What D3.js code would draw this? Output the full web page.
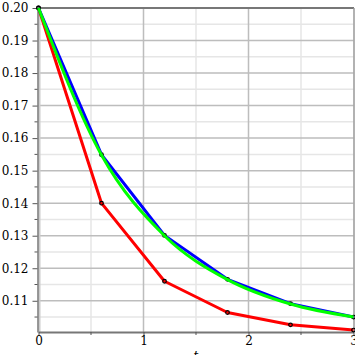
<!DOCTYPE html>
<html>
<head>
<meta charset="utf-8">
<script src="https://cdn.jsdelivr.net/npm/d3@7"></script>
<style>
  body { margin: 0; background: #fff; }
  svg { display: block; }
  text { font-family: "DejaVu Serif", serif; font-size: 12px; fill: #000; }
</style>
</head>
<body>
<svg width="355" height="355"></svg>
<script>
const tValues = [0, 0.6, 1.2, 1.8, 2.4, 3.0];
const eulerValues = [0.2, 0.14, 0.116, 0.1064, 0.1026, 0.1010];
const blueValues = [0.2, 0.1549, 0.1301, 0.1166, 0.1091, 0.1050];
const greenValues = [0.2, 0.1548, 0.1300, 0.1165, 0.1090, 0.1050];
const yTicks = [0.11, 0.12, 0.13, 0.14, 0.15, 0.16, 0.17, 0.18, 0.19, 0.20];
const xTicks = [0, 1, 2, 3];

const svg = d3.select('svg');
const x = d3.scaleLinear().domain([0, 3]).range([38.5, 353.5]);
const y = d3.scaleLinear().domain([0.1004, 0.2]).range([332, 8]);

// grid
const minorY = d3.range(0.105, 0.2001, 0.01);
svg.append('g').selectAll('line').data(minorY).enter().append('line')
  .attr('x1', x(0)).attr('x2', x(3))
  .attr('y1', d => y(d)).attr('y2', d => y(d))
  .attr('stroke', '#e6e6e6').attr('stroke-width', 1.5);
svg.append('g').selectAll('line').data([0.5, 1.5, 2.5]).enter().append('line')
  .attr('x1', d => x(d)).attr('x2', d => x(d))
  .attr('y1', y(0.2)).attr('y2', 332)
  .attr('stroke', '#e6e6e6').attr('stroke-width', 1.5);
svg.append('g').selectAll('line').data(yTicks.slice(0, -1)).enter().append('line')
  .attr('x1', x(0)).attr('x2', x(3))
  .attr('y1', d => y(d)).attr('y2', d => y(d))
  .attr('stroke', '#bdbdbd').attr('stroke-width', 1.5);
svg.append('g').selectAll('line').data([1, 2]).enter().append('line')
  .attr('x1', d => x(d)).attr('x2', d => x(d))
  .attr('y1', y(0.2)).attr('y2', 332)
  .attr('stroke', '#bdbdbd').attr('stroke-width', 1.5);

// frame
svg.append('line').attr('x1', 38).attr('x2', 354).attr('y1', y(0.2)).attr('y2', y(0.2))
  .attr('stroke', '#777').attr('stroke-width', 2);
svg.append('line').attr('x1', 354).attr('x2', 354).attr('y1', y(0.2)).attr('y2', 332)
  .attr('stroke', '#999').attr('stroke-width', 1.5);
svg.append('line').attr('x1', 39.5).attr('x2', 39.5).attr('y1', y(0.2)).attr('y2', 332)
  .attr('stroke', '#ccc').attr('stroke-width', 2);

// axes
const yAxis = d3.axisLeft(y).tickValues(yTicks).tickFormat(d3.format('.2f')).tickSize(5).tickSizeOuter(0);
const yg = svg.append('g').attr('transform', 'translate(37.5,0)').call(yAxis);
yg.select('.domain').attr('stroke', '#777').attr('stroke-width', 1.5);
yg.selectAll('.tick line').attr('stroke', '#555');
yg.selectAll('text').attr('font-family', '"DejaVu Serif", serif').attr('font-size', 12).attr('dx', -1);
svg.append('g').selectAll('line').data(minorY).enter().append('line')
  .attr('x1', 34.5).attr('x2', 37.5)
  .attr('y1', d => y(d)).attr('y2', d => y(d))
  .attr('stroke', '#555');

const xAxis = d3.axisBottom(x).tickValues(xTicks).tickFormat(d3.format('d')).tickSize(4).tickSizeOuter(0);
const xg = svg.append('g').attr('transform', 'translate(0,332)').call(xAxis);
xg.select('.domain').attr('stroke', '#777').attr('stroke-width', 2);
xg.selectAll('.tick line').attr('stroke', '#555');
xg.selectAll('text').attr('font-family', '"DejaVu Serif", serif').attr('font-size', 12).attr('dy', '0.5em');
svg.append('g').selectAll('line').data([0.5, 1.5, 2.5]).enter().append('line')
  .attr('x1', d => x(d)).attr('x2', d => x(d))
  .attr('y1', 332).attr('y2', 335)
  .attr('stroke', '#555');
svg.append('text').attr('x', x(1.5)).attr('y', 360).attr('text-anchor', 'middle')
  .attr('font-style', 'italic').text('t');

// series
const pts = vals => vals.map((v, i) => [tValues[i], v]);
const straight = d3.line().x(d => x(d[0])).y(d => y(d[1]));
const smooth = d3.line().x(d => x(d[0])).y(d => y(d[1])).curve(d3.curveMonotoneX);

const dots = vals => svg.append('g').selectAll('circle').data(pts(vals)).enter().append('circle')
  .attr('cx', d => x(d[0])).attr('cy', d => y(d[1])).attr('r', 1.8)
  .attr('fill', 'none').attr('stroke', '#000').attr('stroke-width', 1.2);

svg.append('path').datum(pts(eulerValues)).attr('d', straight)
  .attr('fill', 'none').attr('stroke', '#ff0000').attr('stroke-width', 3).attr('stroke-linejoin', 'round');
dots(eulerValues);
svg.append('path').datum(pts(blueValues)).attr('d', straight)
  .attr('fill', 'none').attr('stroke', '#0000ff').attr('stroke-width', 3).attr('stroke-linejoin', 'round');
dots(blueValues);
svg.append('path').datum(pts(greenValues)).attr('d', smooth)
  .attr('fill', 'none').attr('stroke', '#00ff00').attr('stroke-width', 3);
</script>
</body>
</html>
